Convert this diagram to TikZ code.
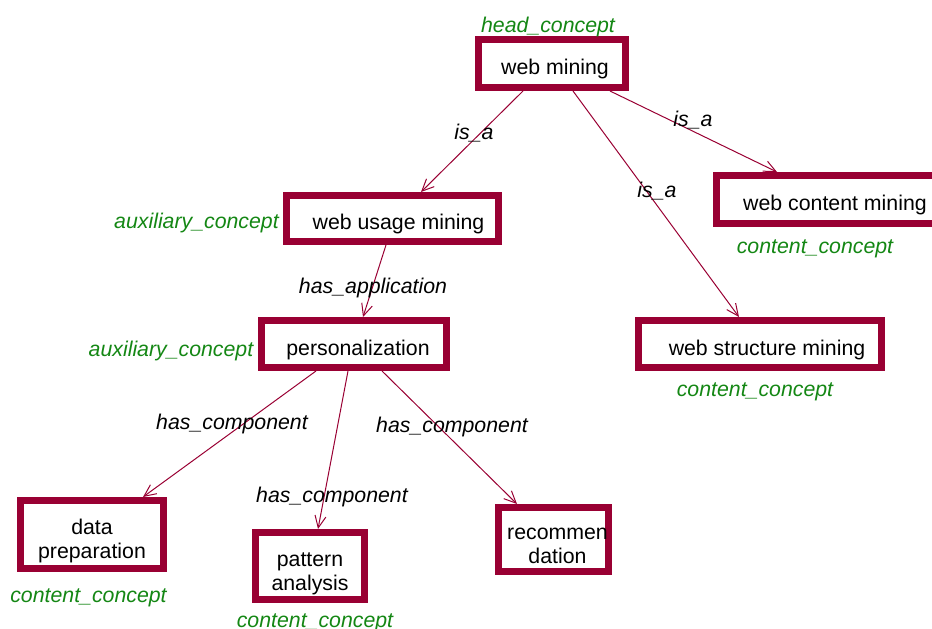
\documentclass[tikz,border=0pt]{standalone}
\usepackage{fontspec}
\setmainfont{Liberation Sans}
\usetikzlibrary{arrows.meta}
\definecolor{boxred}{RGB}{153,0,51}
\definecolor{tagGreen}{RGB}{20,135,20}
\newcommand{\twolines}[2]{\begin{tabular}[t]{@{}c@{}}#1\\#2\end{tabular}}
\begin{document}
\begin{tikzpicture}[x=1pt,y=-1pt,
  font=\fontsize{21.3}{24}\selectfont,
  concept/.style={draw=boxred, line width=7pt, rectangle, inner sep=0pt,
    fill=white, text height=26pt, text depth=4pt},
  concept2/.style={concept, text height=30pt, text depth=30pt},
  tag/.style={text=tagGreen, font=\fontsize{21.3}{24}\selectfont\itshape,
    inner sep=0pt, yshift=-2.5pt},
  rel/.style={font=\fontsize{21.3}{24}\selectfont\itshape, inner sep=0pt,
    yshift=-2.5pt},
  link/.style={draw=boxred, line width=1pt,
    -{Straight Barb[length=12pt,width=11pt,line width=1pt]}}]
\useasboundingbox (0,0) rectangle (932,629);

% concept boxes
\node[concept, minimum width=147pt, minimum height=48pt] (wm) at (552,63.5) {\hspace*{6pt}web mining};
\node[concept, minimum width=212pt, minimum height=46pt] (wum) at (392.5,218.5) {\hspace*{12pt}web usage mining};
\node[concept, minimum width=237pt, minimum height=48pt] (wcm) at (835,199.5) {web content mining};
\node[concept, minimum width=243pt, minimum height=47pt] (wsm) at (760,344) {\hspace*{14pt}web structure mining};
\node[concept, minimum width=185pt, minimum height=47pt] (pers) at (354,344) {\hspace*{8pt}personalization};
\node[concept2, minimum width=143pt, minimum height=68pt] (dp) at (92,534.5) {\twolines{data}{preparation}};
\node[concept2, minimum width=109pt, minimum height=67pt] (pa) at (310,566) {\twolines{pattern}{analysis}};
\node[concept2, minimum width=110pt, minimum height=64pt] (rec) at (553.5,539.5) {\hspace*{8pt}\twolines{recommen}{dation}};

% concept kinds
\node[tag] (t-wm) at (548,24) {head\_concept};
\node[tag] (t-wum) at (196.5,220) {auxiliary\_concept};
\node[tag] (t-wcm) at (815,246) {content\_concept};
\node[tag] (t-wsm) at (755,389) {content\_concept};
\node[tag] (t-pers) at (171,348) {auxiliary\_concept};
\node[tag] (t-dp) at (88.5,595) {content\_concept};
\node[tag] (t-pa) at (315,620) {content\_concept};

% relations
\draw[link] ([xshift=-29pt]wm.south) -- ([xshift=28.5pt]wum.north);
\draw[link] ([xshift=21pt]wm.south) -- ([xshift=-21pt]wsm.north);
\draw[link] ([xshift=58pt]wm.south) -- ([xshift=-58pt]wcm.north);
\draw[link] ([xshift=-6.5pt]wum.south) -- ([xshift=9pt]pers.north);
\draw[link] ([xshift=-38pt]pers.south) -- ([xshift=51pt]dp.north);
\draw[link] ([xshift=-6pt]pers.south) -- ([xshift=8pt]pa.north);
\draw[link] ([xshift=28pt]pers.south) -- ([xshift=-36.5pt]rec.north);

% relation names
\node[rel] (r1) at (474,131) {is\_a};
\node[rel] (r2) at (657,189) {is\_a};
\node[rel] (r3) at (693,118) {is\_a};
\node[rel] (r4) at (373,285) {has\_application};
\node[rel] (r5) at (232,421) {has\_component};
\node[rel] (r6) at (332,494) {has\_component};
\node[rel] (r7) at (452,424) {has\_component};
\end{tikzpicture}
\end{document}
